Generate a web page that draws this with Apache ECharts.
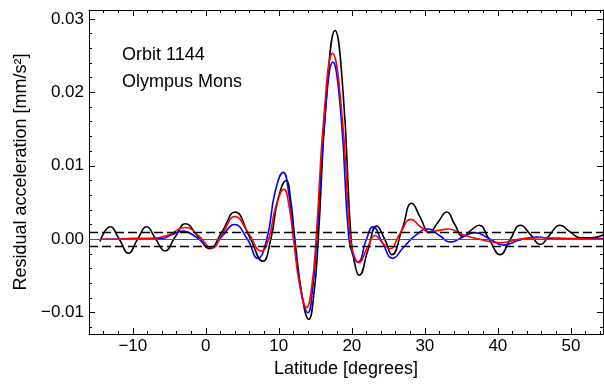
<!DOCTYPE html>
<html>
<head>
<meta charset="utf-8">
<script src="https://cdn.jsdelivr.net/npm/echarts@6/dist/echarts.min.js"></script>
<style>
  html, body { margin: 0; padding: 0; background: #fff; }
  #main { width: 604px; height: 385px; }
</style>
</head>
<body>
<div id="main"></div>
<script>
  // axis ticks
  const xMajor = [-10, 0, 10, 20, 30, 40, 50];
  const xMinor = [-16, -14, -12, -8, -6, -4, -2, 2, 4, 6, 8, 12, 14, 16, 18, 22, 24, 26, 28, 32, 34, 36, 38, 42, 44, 46, 48, 52, 54];
  const yMajor = [-0.01, 0, 0.01, 0.02, 0.03];
  const yMinor = [-0.012, -0.008, -0.006, -0.004, -0.002, 0.002, 0.004, 0.006, 0.008, 0.012, 0.014, 0.016, 0.018, 0.022, 0.024, 0.026, 0.028, 0.03];
  // noise band
  const noiseBand = [0.001, -0.001];

  // [latitude, residual acceleration]
  const blackPts = [
    [-14.5, -0.0003], [-13.1, 0.0017], [-11.85, 0], [-10.6, -0.0019], [-9.35, 0], [-8.1, 0.0017],
    [-6.85, 0], [-5.6, -0.0016], [-4.2, 0.0003], [-2.8, 0.0021], [-1.1, 0.0004], [0.5, -0.0013],
    [2.2, 0.0010], [4.0, 0.0037], [6.0, 0.0003], [7.8, -0.0030], [8.9, 0], [9.9, 0.0055],
    [11.0, 0.0080], [11.6, 0.0055], [12.2, 0], [13.2, -0.0078], [14.1, -0.0109], [14.8, -0.0075],
    [15.4, 0], [16.5, 0.0190], [17.7, 0.0284], [18.8, 0.0200], [19.9, 0], [20.5, -0.0038],
    [21.0, -0.0049], [22.2, -0.0015], [23.4, 0.0018], [24.5, 0], [25.5, -0.0021], [26.9, 0.0014],
    [28.2, 0.0049], [29.4, 0.0029], [30.6, 0.0009], [31.8, 0.0023], [33.0, 0.0037], [34.1, 0.0020],
    [35.2, 0.0004], [36.3, 0.0012], [37.4, 0.0019], [38.8, 0], [40.3, -0.0021], [41.7, 0],
    [43.1, 0.0019], [44.5, 0.0006], [45.8, -0.0007], [47.1, 0.0006], [48.5, 0.0019], [49.9, 0.0010],
    [51.3, 0.0002], [52.9, 0.0002], [54.5, 0.0006]
  ];
  const redPts = [
    [-14.5, 0], [-12, 0], [-10, 0.0001], [-8, 0.0001], [-6.5, 0.0002], [-5, 0.0006], [-2.9, 0.0016],
    [-1.0, 0.0005], [0.8, -0.0012], [2.3, 0.0008], [4.0, 0.0031], [5.8, 0.0009], [7.6, -0.0016],
    [8.6, 0], [9.6, 0.0045], [10.7, 0.0068], [11.4, 0.0045], [12.0, 0], [12.9, -0.0065],
    [13.8, -0.0093], [14.5, -0.0065], [15.1, 0], [16.2, 0.0170], [17.35, 0.0253], [18.6, 0.0175],
    [19.8, 0], [20.4, -0.0025], [20.9, -0.0032], [22.1, -0.0012], [23.2, 0.0005], [24.2, -0.0005],
    [25.2, -0.0013], [26.6, 0.0008], [28.1, 0.0027], [29.4, 0.0017], [30.6, 0.0010], [31.9, 0.0012],
    [33.2, 0.0014], [35.2, 0.0006], [37.1, 0.0001], [40.3, -0.0005], [43.5, 0.0001], [46, 0.0002],
    [50, 0.0001], [54.5, 0]
  ];
  const bluePts = [
    [-14.5, 0], [-12, 0], [-10, 0.0001], [-8, 0.0001], [-6, 0.0001], [-4.7, 0.0006], [-3.2, 0.0011],
    [-1.2, 0.0002], [0.6, -0.0011], [2.3, 0.0005], [3.9, 0.0020], [5.7, 0], [7.1, -0.0026],
    [8.35, 0], [9.5, 0.0065], [10.6, 0.0091], [11.4, 0.0060], [12.1, 0], [13.1, -0.0073],
    [14.0, -0.0100], [14.6, -0.0070], [15.2, 0], [16.3, 0.0165], [17.4, 0.0241], [18.5, 0.0170],
    [19.6, 0], [20.3, -0.0025], [20.85, -0.0031], [22.0, 0], [22.9, 0.0017], [24.2, -0.0005],
    [25.6, -0.0026], [27.0, -0.0012], [28.8, 0.0006], [30.5, 0.0014], [32.0, 0.0005], [33.5, -0.0004],
    [35.2, 0.0003], [36.9, 0.0009], [38.8, 0.0001], [40.8, -0.0008], [43.0, -0.0001], [45.3, 0.0003],
    [48, 0], [51, 0.0001], [54.5, 0.0001]
  ];

  const font = 'Liberation Sans, Arial, sans-serif';
  const xMin = -16, xMax = 54.4, yMin = -0.0129, yMax = 0.0312;
  const fmtX = v => (v < 0 ? '\u2212' + Math.abs(v) : '' + v);
  const fmtY = v => (v < 0 ? '\u2212' : '') + Math.abs(v).toFixed(2);

  function xAx(pos, ticks, len, labels) {
    return {
      type: 'value', min: xMin, max: xMax, position: pos,
      axisLine: { show: len > 4, onZero: false, lineStyle: { color: '#000', width: 1 } },
      axisTick: { inside: true, length: len, customValues: ticks, lineStyle: { color: '#000' } },
      axisLabel: labels ? { customValues: ticks, formatter: fmtX, color: '#000', fontSize: 17, fontFamily: font, margin: 4 } : { show: false },
      splitLine: { show: false }
    };
  }
  function yAx(pos, ticks, len, labels) {
    return {
      type: 'value', min: yMin, max: yMax, position: pos,
      axisLine: { show: len > 4, onZero: false, lineStyle: { color: '#000', width: 1 } },
      axisTick: { inside: true, length: len, customValues: ticks, lineStyle: { color: '#000' } },
      axisLabel: labels ? { customValues: ticks, formatter: fmtY, color: '#000', fontSize: 17, fontFamily: font, margin: 5 } : { show: false },
      splitLine: { show: false }
    };
  }

  const xAxes = [xAx('bottom', xMajor, 6, true), xAx('bottom', xMinor, 3, false), xAx('top', xMajor, 6, false), xAx('top', xMinor, 3, false)];
  Object.assign(xAxes[0], {
    name: 'Latitude [degrees]', nameLocation: 'middle', nameGap: 25,
    nameTextStyle: { color: '#000', fontSize: 18, fontFamily: font }
  });
  const yAxes = [yAx('left', yMajor, 6, true), yAx('left', yMinor, 3, false), yAx('right', yMajor, 6, false), yAx('right', yMinor, 3, false)];
  Object.assign(yAxes[0], {
    name: 'Residual acceleration [mm/s\u00b2]', nameLocation: 'middle', nameGap: 58,
    nameTextStyle: { color: '#000', fontSize: 18, fontFamily: font }
  });

  function line(pts, color) {
    return {
      type: 'line', data: pts, showSymbol: false, smooth: 0.5,
      lineStyle: { color: color, width: 1.6 }, silent: true
    };
  }

  // reference lines: zero and the +/- noise band
  const refSeries = {
    type: 'line', data: [], silent: true,
    markLine: {
      silent: true, symbol: ['none', 'none'], label: { show: false }, animation: false, precision: 6,
      data: [{ yAxis: 0, lineStyle: { color: '#555', width: 1, type: 'solid' } }].concat(
        noiseBand.map(v => ({ yAxis: v, lineStyle: { color: '#000', width: 1.3, type: [9, 4] } })))
    }
  };

  const myChart = echarts.init(document.getElementById('main'));
  myChart.setOption({
    animation: false,
    backgroundColor: '#fff',
    grid: { left: 89, right: 1, top: 10, bottom: 51 },
    xAxis: xAxes,
    yAxis: yAxes,
    graphic: [
      { type: 'text', left: 122, top: 46, style: { text: 'Orbit 1144', fill: '#000', font: '18px ' + font } },
      { type: 'text', left: 122, top: 73, style: { text: 'Olympus Mons', fill: '#000', font: '18px ' + font } }
    ],
    series: [refSeries, line(blackPts, '#000000'), line(bluePts, '#0000ff'), line(redPts, '#ff0000')]
  });
</script>
</body>
</html>
